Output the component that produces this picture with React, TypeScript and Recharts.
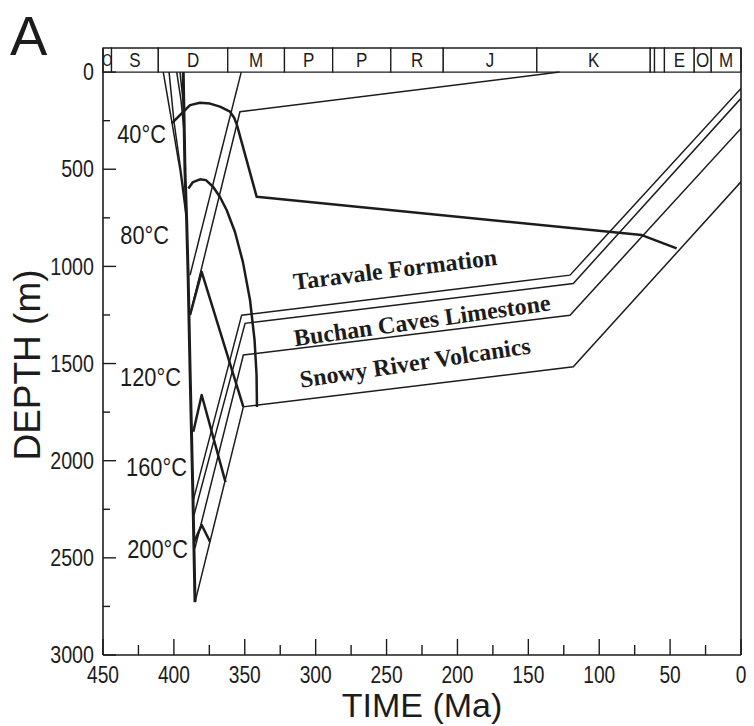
import React from "react";
import {
  ComposedChart,
  Line,
  XAxis,
  YAxis,
  ReferenceArea,
  ReferenceLine,
  ReferenceDot,
} from "recharts";

const INK = "#1c1c1c";
const SANS = '"Liberation Sans", Arial, sans-serif';
const SERIF = '"Liberation Serif", "Times New Roman", serif';

// ── Stratigraphic column (Ma) ───────────────────────────────────

const periodLabels = ["O", "S", "D", "M", "P", "P", "R", "J", "K", "", "", "E", "O", "M"];
const periodStart = [450, 444, 411, 362, 322, 288, 247, 210, 144, 64, 61, 54, 33, 21];
const periodEnd = [444, 411, 362, 322, 288, 247, 210, 144, 64, 61, 54, 33, 21, 0];

// ── Axis ticks ──────────────────────────────────────────────────

const timeTicks = [450, 425, 400, 375, 350, 325, 300, 275, 250, 225, 200, 175, 150, 125, 100, 75, 50, 25, 0];
const depthTicks = [0, 250, 500, 750, 1000, 1250, 1500, 1750, 2000, 2250, 2500, 2750, 3000];

// ── Burial curves: t = age (Ma), d = depth (m) ──────────────────

type Pt = { t: number; d: number };

const upperTop: Pt[] = [
  { t: 352.5, d: 0 },
  { t: 388.6, d: 1045 },
];
const taravaleTop: Pt[] = [
  { t: 128, d: 0 },
  { t: 353.4, d: 204 },
  { t: 388.6, d: 1250 },
];
const taravaleBase: Pt[] = [
  { t: 0, d: 84 },
  { t: 120.6, d: 1045 },
  { t: 352.2, d: 1251 },
  { t: 386.3, d: 2203 },
];
const buchanTop: Pt[] = [
  { t: 0, d: 135 },
  { t: 118.3, d: 1088 },
  { t: 349.8, d: 1293 },
  { t: 385.8, d: 2280 },
];
const buchanBase: Pt[] = [
  { t: 0, d: 290 },
  { t: 120.6, d: 1251 },
  { t: 351.0, d: 1456 },
  { t: 385.1, d: 2450 },
];
const snowyBase: Pt[] = [
  { t: 0, d: 565 },
  { t: 118.3, d: 1517 },
  { t: 351.0, d: 1723 },
  { t: 385.1, d: 2728 },
];

// early Devonian subsidence tracks
const early1: Pt[] = [
  { t: 407.5, d: 0 },
  { t: 401.3, d: 262 },
  { t: 395.7, d: 504 },
  { t: 391.5, d: 736 },
];
const early2: Pt[] = [
  { t: 403.4, d: 0 },
  { t: 399.9, d: 257 },
  { t: 393.6, d: 582 },
  { t: 391.1, d: 736 },
];
const early3: Pt[] = [
  { t: 398.0, d: 0 },
  { t: 395.0, d: 144 },
  { t: 392.9, d: 299 },
  { t: 391.8, d: 504 },
];
const early4: Pt[] = [
  { t: 395.7, d: 0 },
  { t: 393.6, d: 144 },
  { t: 392.5, d: 350 },
];
const basinFloor: Pt[] = [
  { t: 393.4, d: 0 },
  { t: 392.2, d: 504 },
  { t: 391.0, d: 762 },
  { t: 390.0, d: 1034 },
  { t: 388.6, d: 1534 },
  { t: 386.5, d: 2203 },
  { t: 385.1, d: 2728 },
];

// ── Isotherms ───────────────────────────────────────────────────

const iso40: Pt[] = [
  { t: 401.5, d: 264 },
  { t: 394.5, d: 213 },
  { t: 388.6, d: 170 },
  { t: 381.6, d: 158 },
  { t: 374.5, d: 162 },
  { t: 367.5, d: 178 },
  { t: 360.4, d: 204 },
  { t: 357.5, d: 235 },
  { t: 355.5, d: 273 },
  { t: 341.6, d: 642 },
  { t: 70.0, d: 839 },
  { t: 45.4, d: 907 },
];
const iso80: Pt[] = [
  { t: 389.8, d: 599 },
  { t: 386.5, d: 566 },
  { t: 381.6, d: 552 },
  { t: 377.4, d: 556 },
  { t: 372.4, d: 590 },
  { t: 367.5, d: 643 },
  { t: 362.8, d: 710 },
  { t: 356.9, d: 823 },
  { t: 351.3, d: 978 },
  { t: 346.3, d: 1173 },
  { t: 343.1, d: 1379 },
  { t: 341.7, d: 1559 },
  { t: 341.4, d: 1724 },
];
const iso120: Pt[] = [
  { t: 388.6, d: 1250 },
  { t: 380.4, d: 1028 },
  { t: 351.0, d: 1723 },
];
const iso160: Pt[] = [
  { t: 386.3, d: 1851 },
  { t: 380.4, d: 1662 },
  { t: 363.6, d: 2110 },
];
const iso200: Pt[] = [
  { t: 386.0, d: 2424 },
  { t: 380.4, d: 2331 },
  { t: 374.5, d: 2417 },
];

// ── Annotations (age, depth) ────────────────────────────────────

const tempLabels = ["40°C", "80°C", "120°C", "160°C", "200°C"];
const tempAge = [405.6, 403.4, 395.0, 390.8, 390.0];
const tempDepth = [317, 839, 1565, 2028, 2450];

const unitLabels = ["Taravale Formation", "Buchan Caves Limestone", "Snowy River Volcanics"];
const unitAge = [244.0, 225.0, 229.9];
const unitDepth = [1014, 1276, 1493];
const unitTilt = [-7, -8, -8.5];

const thinLines = [upperTop, taravaleTop, taravaleBase, buchanTop, buchanBase, snowyBase, early1, early2, early3, early4];
const isotherms = [iso40, iso80, iso120, iso160, iso200];

// condensed sans text (horizontally squeezed Liberation Sans)
function NarrowText({ x, y, size, anchor = "middle", squeeze = 0.8, dy, children }: any) {
  return (
    <text
      transform={`translate(${x} ${y}) scale(${squeeze} 1)`}
      x={0}
      y={0}
      dy={dy}
      textAnchor={anchor}
      fontSize={size}
      fontFamily={SANS}
      fill={INK}
    >
      {children}
    </text>
  );
}

function TimeTick({ x, y, payload }: any) {
  const v = payload.value;
  const major = v % 50 === 0;
  return (
    <g>
      <line x1={x} y1={y} x2={x} y2={y - (major ? 16 : 10)} stroke={INK} strokeWidth={1.4} />
      {major && (
        <NarrowText x={x} y={y + 28} size={24}>
          {v}
        </NarrowText>
      )}
    </g>
  );
}

function DepthTick({ x, y, payload }: any) {
  const v = payload.value;
  const major = v % 500 === 0;
  return (
    <g>
      <line x1={x} y1={y} x2={x + (major ? 13 : 7)} y2={y} stroke={INK} strokeWidth={1.4} />
      {major && (
        <NarrowText x={x - 9} y={y} dy="0.34em" anchor="end" size={24} squeeze={0.82}>
          {v}
        </NarrowText>
      )}
    </g>
  );
}

function TimeTitle({ viewBox }: any) {
  return (
    <text x={viewBox.x + viewBox.width / 2} y={viewBox.y + 62} textAnchor="middle" fontSize={34} fontFamily={SANS} fill={INK}>
      TIME (Ma)
    </text>
  );
}

function DepthTitle() {
  return (
    <text x={27} y={365} transform="rotate(-90 27 365)" textAnchor="middle" dominantBaseline="central" fontSize={37} fontFamily={SANS} fill={INK}>
      DEPTH (m)
    </text>
  );
}

export default function App() {
  return (
    <div style={{ position: "absolute", left: 0, top: 0, width: 754, height: 726, background: "#fff" }}>
      <div style={{ position: "absolute", left: 10, top: 8, fontFamily: SANS, fontSize: 56, lineHeight: "56px", color: INK }}>A</div>
      <ComposedChart width={754} height={726} margin={{ top: 48, right: 13, bottom: 0, left: 0 }}>
        <XAxis
          type="number"
          dataKey="t"
          domain={[0, 450]}
          reversed
          allowDataOverflow
          ticks={timeTicks}
          interval={0}
          tick={<TimeTick />}
          tickLine={false}
          tickSize={0}
          tickMargin={0}
          height={71}
          axisLine={{ stroke: INK, strokeWidth: 1.6 }}
          label={<TimeTitle />}
        />
        <YAxis
          type="number"
          dataKey="d"
          domain={[-124, 3000]}
          reversed
          allowDataOverflow
          ticks={depthTicks}
          interval={0}
          tick={<DepthTick />}
          tickLine={false}
          tickSize={0}
          tickMargin={0}
          width={103}
          axisLine={{ stroke: INK, strokeWidth: 1.6 }}
          label={<DepthTitle />}
        />

        {periodLabels.map((p, i) => (
          <ReferenceArea
            key={`per${i}`}
            x1={periodStart[i]}
            x2={periodEnd[i]}
            y1={-124}
            y2={0}
            fill="#fff"
            fillOpacity={1}
            stroke={INK}
            strokeWidth={1.3}
            label={(props: any) => {
              const vb = props.viewBox;
              const narrowBox = vb.width < 12;
              return (
                <NarrowText
                  x={vb.x + vb.width / 2}
                  y={vb.y + vb.height / 2}
                  dy="0.36em"
                  size={narrowBox ? 16 : 20}
                  squeeze={narrowBox ? 0.8 : 0.85}
                >
                  {p}
                </NarrowText>
              );
            }}
          />
        ))}
        <ReferenceLine x={0} stroke={INK} strokeWidth={1.6} />

        {thinLines.map((pts, i) => (
          <Line
            key={`h${i}`}
            data={pts}
            dataKey="d"
            type="linear"
            stroke={INK}
            strokeWidth={1.5}
            dot={false}
            activeDot={false}
            isAnimationActive={false}
          />
        ))}
        <Line data={basinFloor} dataKey="d" type="linear" stroke={INK} strokeWidth={3} dot={false} activeDot={false} isAnimationActive={false} />
        {isotherms.map((pts, i) => (
          <Line
            key={`iso${i}`}
            data={pts}
            dataKey="d"
            type="linear"
            stroke={INK}
            strokeWidth={2.5}
            strokeLinejoin="round"
            dot={false}
            activeDot={false}
            isAnimationActive={false}
          />
        ))}

        {tempLabels.map((s, i) => (
          <ReferenceDot
            key={`tl${i}`}
            x={tempAge[i]}
            y={tempDepth[i]}
            r={0}
            shape={(p: any) => (
              <NarrowText x={p.cx} y={p.cy} dy="0.36em" anchor="end" size={26} squeeze={0.84}>
                {s}
              </NarrowText>
            )}
          />
        ))}
        {unitLabels.map((s, i) => (
          <ReferenceDot
            key={`ul${i}`}
            x={unitAge[i]}
            y={unitDepth[i]}
            r={0}
            shape={(p: any) => (
              <text
                x={p.cx}
                y={p.cy}
                dy="0.35em"
                textAnchor="middle"
                transform={`rotate(${unitTilt[i]} ${p.cx} ${p.cy})`}
                fontSize={24}
                fontWeight={700}
                fontFamily={SERIF}
                fill={INK}
              >
                {s}
              </text>
            )}
          />
        ))}
      </ComposedChart>
    </div>
  );
}
